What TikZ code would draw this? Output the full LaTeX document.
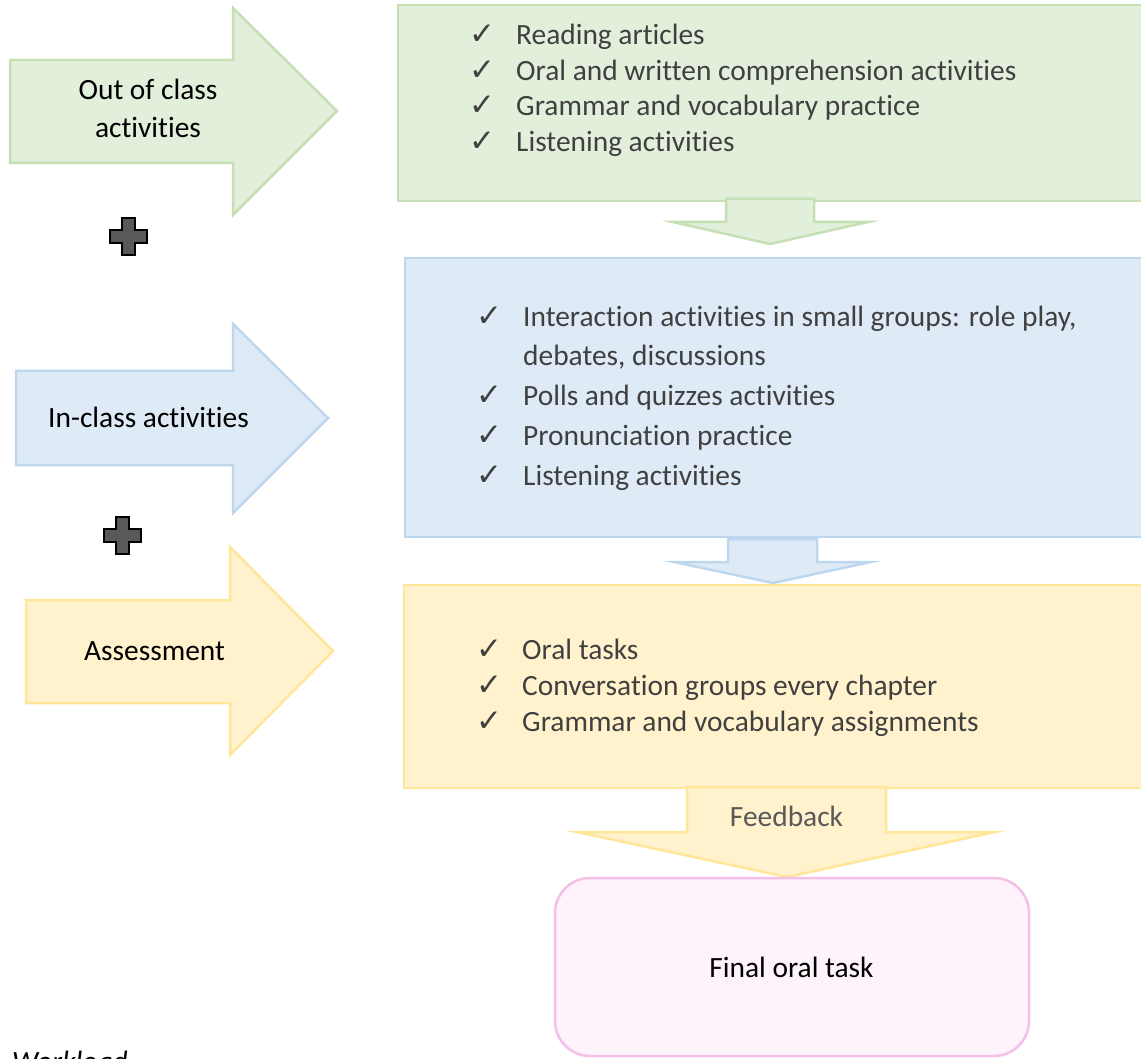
\documentclass[tikz,border=0pt]{standalone}
\usepackage{fontspec}
\setmainfont{Carlito}[Ligatures=NoCommon]
\newfontfamily\symfont{DejaVu Sans}
\definecolor{gfill}{HTML}{E2EFDA}
\definecolor{gline}{HTML}{C5E0B4}
\definecolor{bfill}{HTML}{DEEBF7}
\definecolor{bline}{HTML}{BDD7EE}
\definecolor{yfill}{HTML}{FFF2CC}
\definecolor{yline}{HTML}{FFE699}
\definecolor{pfill}{HTML}{FEF3FB}
\definecolor{pline}{HTML}{F6BFE8}
\definecolor{txtgray}{HTML}{404040}
\definecolor{fbgray}{HTML}{595959}
\definecolor{plusfill}{HTML}{595959}
\begin{document}
\begin{tikzpicture}[x=1pt,y=-1pt,
  shp/.style={line width=2.5pt, line join=miter},
  gshp/.style={shp, draw=gline, fill=gfill},
  bshp/.style={shp, draw=bline, fill=bfill},
  yshp/.style={shp, draw=yline, fill=yfill},
  lst/.style={anchor=base west, inner sep=0pt, text=txtgray, font=\fontsize{29.4}{35}\selectfont},
  chk/.style={anchor=base west, inner sep=0pt, text=txtgray, font=\symfont\fontsize{31}{31}\selectfont},
  lbl/.style={anchor=base, inner sep=0pt, text=black, font=\fontsize{29.4}{35}\selectfont},
  plussign/.pic={
    \draw[line width=2pt, fill=plusfill, draw=black, line join=miter]
      (-6.5,-18.5) -- (6.5,-18.5) -- (6.5,-6.5) -- (18.5,-6.5) -- (18.5,6.5) -- (6.5,6.5)
      -- (6.5,18.5) -- (-6.5,18.5) -- (-6.5,6.5) -- (-18.5,6.5) -- (-18.5,-6.5) -- (-6.5,-6.5) -- cycle;
  }
]
\useasboundingbox (0,0) rectangle (1141,1059);
\clip (0,0) rectangle (1141,1059);

% left block arrows
\draw[gshp] (10,60) -- (233,60) -- (233,8) -- (337,111) -- (233,215) -- (233,163) -- (10,163) -- cycle;
\draw[bshp] (16,371) -- (233,371) -- (233,324) -- (328,418) -- (233,513) -- (233,465) -- (16,465) -- cycle;
\draw[yshp] (26,600) -- (230,600) -- (230,547) -- (333,651) -- (230,755) -- (230,703) -- (26,703) -- cycle;

\node[lbl] (out1) at (148,100) {Out of class};
\node[lbl] (out2) at (148,138) {activities};
\node[lbl] (incl) at (148.5,428) {In-class activities};
\node[lbl] (asse) at (154.5,660) {Assessment};

% plus signs
\pic (plus1) at (128.5,236.5) {plussign};
\pic (plus2) at (122.5,535) {plussign};

% green box
\draw[gshp] (398,5) rectangle (1160,201);
\node[chk] (gc1) at (469,45) {✓};
\node[chk] (gc2) at (469,80.5) {✓};
\node[chk] (gc3) at (469,116) {✓};
\node[chk] (gc4) at (469,151.5) {✓};
\node[lst] (g1) at (516,45) {Reading articles};
\node[lst] (g2) at (516,80.5) {Oral and written comprehension activities};
\node[lst] (g3) at (516,116) {Grammar and vocabulary practice};
\node[lst] (g4) at (516,151.5) {Listening activities};
\draw[gshp] (726,199) -- (814,199) -- (814,222) -- (868,222) -- (770,244) -- (673,222) -- (726,222) -- cycle;

% blue box
\draw[bshp] (405,258) rectangle (1160,537);
\node[chk] (bc1) at (476,327) {✓};
\node[chk] (bc2) at (476,405.5) {✓};
\node[chk] (bc3) at (476,445) {✓};
\node[chk] (bc4) at (476,485) {✓};
\node[lst] (b1) at (523,327) {Interaction activities in small groups: role play,};
\node[lst] (b1b) at (523,366) {debates, discussions};
\node[lst] (b2) at (523,405.5) {Polls and quizzes activities};
\node[lst] (b3) at (523,445) {Pronunciation practice};
\node[lst] (b4) at (523,485) {Listening activities};
\draw[bshp] (728,539) -- (817,539) -- (817,562) -- (871,562) -- (773,583) -- (674,562) -- (728,562) -- cycle;

% yellow box
\draw[yshp] (404,585) rectangle (1160,788);
\node[chk] (yc1) at (476,659) {✓};
\node[chk] (yc2) at (476,695) {✓};
\node[chk] (yc3) at (476,731) {✓};
\node[lst] (y1) at (522,659) {Oral tasks};
\node[lst] (y2) at (522,695) {Conversation groups every chapter};
\node[lst] (y3) at (522,731) {Grammar and vocabulary assignments};
\draw[yshp] (687,787) -- (886,787) -- (886,832) -- (995,832) -- (787,877) -- (577,832) -- (687,832) -- cycle;
\node[lbl, text=fbgray] (fb) at (786.5,826) {Feedback};

% final box
\draw[shp, draw=pline, fill=pfill, rounded corners=35pt] (555,878) rectangle (1029,1056);
\node[lbl] (fin) at (791.5,977) {Final oral task};

% caption, cut off by the lower edge as in the reference
\node[anchor=base west, inner sep=0pt, font=\itshape\fontsize{29.4}{35}\selectfont] (wl) at (12,1071) {Workload};
\end{tikzpicture}
\end{document}
